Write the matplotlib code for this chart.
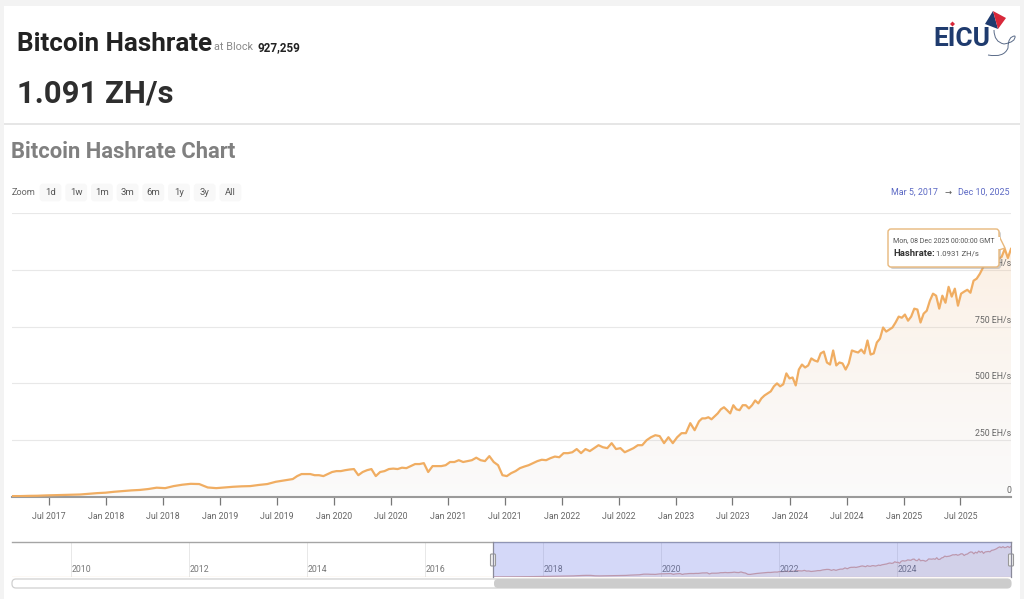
"""
    Bitcoin hashrate chart with navigator, header and tooltip
"""

import numpy as np
import pandas as pd
import matplotlib
matplotlib.use("Agg")
import matplotlib.dates as mdates
from matplotlib import pyplot as plt
from matplotlib.patches import FancyBboxPatch, PathPatch, Polygon, Rectangle
from matplotlib.path import Path

plt.rcParams["font.family"] = ["Roboto", "DejaVu Sans"]

# Values, EH/s
hashrate_2017_2019 = [4, 4, 5, 5.5, 7, 8, 9, 10, 11, 14, 17, 19, 23, 26, 29, 31, 35, 41, 39,
                      48, 54, 58, 57, 42, 39, 42, 45, 47, 48, 53, 57, 67, 73, 79]
hashrate_2019_2023 = [92, 101, 101, 101, 96, 96, 92, 101, 110, 114, 114, 118, 121, 123, 96, 110,
                      118, 123, 92, 110, 114, 123, 125, 123, 129, 127, 136, 145, 145, 149, 110,
                      136, 136, 136, 140, 154, 154, 162, 154, 158, 162, 173, 162, 158, 180, 154,
                      140, 96, 92, 105, 114, 127, 134, 140, 149, 158, 164, 162, 171, 178, 175,
                      193, 193, 197, 211, 193, 211, 202, 215, 228, 219, 215, 237, 211, 215, 197,
                      206, 215, 228, 228, 250, 263, 272, 268, 237, 263, 237, 263, 281, 281, 325, 294]
hashrate_2023_2025 = [333, 346, 346, 351, 342, 355, 368, 386, 395, 382, 368, 404, 386, 382, 404,
                      404, 390, 404, 425, 412, 434, 447, 456, 465, 487, 500, 487, 496, 544, 522,
                      526, 491, 561, 583, 570, 579, 610, 601, 596, 632, 640, 592, 583, 645, 579,
                      592, 588, 561, 588, 645, 640, 636, 649, 632, 689, 627, 632, 680, 697, 746,
                      728, 737, 746, 768, 794, 789, 803, 776, 794, 829, 825, 768, 807, 820, 864,
                      895, 886, 829, 886, 855, 925, 882, 917, 842, 895, 904, 912, 899, 952, 961,
                      982, 1009, 1048, 1075, 1048, 1083, 1048, 1057, 1092, 1052, 1092]

dates = (pd.date_range("2017-03-05", "2019-08-22", periods=len(hashrate_2017_2019)).tolist()
         + pd.date_range("2019-09-05", periods=len(hashrate_2019_2023), freq="14D").tolist()
         + pd.date_range("2023-03-16", periods=len(hashrate_2023_2025), freq="10D").tolist())
hashrate = hashrate_2017_2019 + hashrate_2019_2023 + hashrate_2023_2025

x_ticks = ["2017-07-01", "2018-01-01", "2018-07-01", "2019-01-01", "2019-07-01", "2020-01-01",
           "2020-07-01", "2021-01-01", "2021-07-01", "2022-01-01", "2022-07-01", "2023-01-01",
           "2023-07-01", "2024-01-01", "2024-07-01", "2025-01-01", "2025-07-01"]
x_tick_labels = ["Jul 2017", "Jan 2018", "Jul 2018", "Jan 2019", "Jul 2019", "Jan 2020",
                 "Jul 2020", "Jan 2021", "Jul 2021", "Jan 2022", "Jul 2022", "Jan 2023",
                 "Jul 2023", "Jan 2024", "Jul 2024", "Jan 2025", "Jul 2025"]
y_ticks = [0, 250, 500, 750, 1000, 1250]
y_tick_labels = ["0", "250 EH/s", "500 EH/s", "750 EH/s", "1000 EH/s", ""]
nav_years = [2010, 2012, 2014, 2016, 2018, 2020, 2022, 2024]
zoom_buttons = ["1d", "1w", "1m", "3m", "6m", "1y", "3y", "All"]

W, H = 1024, 599
LINE = "#f0ad62"
GREY = "#666666"


def px_axes(fig, left, top, right, bottom, **kw):
    """Axes placed with pixel positions measured from the top left corner"""
    return fig.add_axes([left / W, 1 - bottom / H, (right - left) / W, (bottom - top) / H], **kw)


def area_gradient(ax, xs, ys, top_color, bottom_color):
    """Vertical gradient under the line, clipped to the area"""
    steps = 256
    t = np.linspace(0, 1, steps)[:, None]
    img = np.zeros((steps, 1, 4))
    img[:, 0, :] = (1 - t) * np.array(top_color) + t * np.array(bottom_color)
    x0, x1 = ax.get_xlim()
    y0, y1 = ax.get_ylim()
    im = ax.imshow(img, extent=[x0, x1, y0, y1], aspect="auto", origin="upper", zorder=1.5)
    verts = [(xs[0], 0)] + list(zip(xs, ys)) + [(xs[-1], 0)]
    im.set_clip_path(Polygon(verts, closed=True, transform=ax.transData))
    ax.set_xlim(x0, x1)
    ax.set_ylim(y0, y1)


fig = plt.figure(figsize=(W / 100, H / 100), dpi=100, facecolor="#f3f3f3")

# Page cards
bg = fig.add_axes([0, 0, 1, 1], zorder=0)
bg.set_xlim(0, W)
bg.set_ylim(H, 0)
bg.axis("off")
bg.add_patch(Rectangle((4, 6), 1016, 117, fc="white", ec="none"))
bg.add_patch(Rectangle((4, 125), 1016, 474, fc="white", ec="none"))
bg.add_patch(Rectangle((4, 123), 1016, 2, fc="#e6e6e6", ec="none"))

# Main chart
ax = px_axes(fig, 12, 213, 1011, 497, zorder=1)
ax.patch.set_alpha(0)
xs = mdates.date2num(dates)
ax.set_xlim(mdates.date2num(pd.Timestamp("2017-03-05")), mdates.date2num(pd.Timestamp("2025-12-10")))
ax.set_ylim(0, 1250)
area_gradient(ax, xs, hashrate, (0.97, 0.72, 0.47, 0.24), (0.85, 0.85, 0.85, 0.12))
ax.plot(xs, hashrate, color=LINE, lw=1.6, zorder=3, solid_joinstyle="round")
ax.set_yticks(y_ticks)
ax.set_yticklabels([])
ax.tick_params(axis="y", length=0)
ax.grid(axis="y", color="#e8e8e8", lw=0.8, zorder=1)
ax.set_axisbelow(True)
ax.set_xticks(mdates.date2num(pd.to_datetime(x_ticks)))
ax.set_xticklabels(x_tick_labels, fontsize=6.3, color=GREY)
ax.tick_params(axis="x", length=6, width=0.9, color="#777777", pad=5)
for side in ["top", "left", "right"]:
    ax.spines[side].set_visible(False)
ax.spines["bottom"].set_color("#9a9a9a")
ax.spines["bottom"].set_linewidth(1.5)
for val, label in zip(y_ticks, y_tick_labels):
    ax.annotate(label, (1, val), xycoords=("axes fraction", "data"), xytext=(0, 1.5),
                textcoords="offset points", ha="right", va="bottom", fontsize=6.3, color=GREY, zorder=4)

# Navigator
nav = px_axes(fig, 12, 542, 1011, 577, zorder=1)
nav.set_xlim(mdates.date2num(pd.Timestamp("2009-01-01")), mdates.date2num(pd.Timestamp("2025-12-10")))
nav.set_ylim(0, 1250)
nav.fill_between(xs, hashrate, color="#f0ad62", alpha=0.12, lw=0, zorder=2)
nav.plot(xs, hashrate, color="#dfa99a", lw=0.9, zorder=3)
nav.plot(nav.get_xlim(), [15, 15], color="#f2d5b0", lw=0.9, zorder=3)
year_pos = mdates.date2num(pd.to_datetime([f"{y}-01-01" for y in nav_years]))
nav.set_xticks(year_pos)
nav.set_xticklabels([])
nav.set_yticks([])
nav.tick_params(axis="x", length=0)
nav.grid(axis="x", color="#e8e8e8", lw=0.7)
nav.set_axisbelow(True)
for pos, year in zip(year_pos, nav_years):
    nav.annotate(str(year), (pos, 0), xytext=(0.8, 1.8), textcoords="offset points", fontsize=6.3,
                 color="#777777", ha="left", va="bottom", zorder=4)
for side in ["left", "bottom", "right"]:
    nav.spines[side].set_visible(False)
nav.spines["top"].set_color("#a5a5a5")
nav.spines["top"].set_linewidth(1)

# Header, buttons, selection and tooltip go on an overlay in pixel coordinates
top = fig.add_axes([0, 0, 1, 1], zorder=5)
top.set_xlim(0, W)
top.set_ylim(H, 0)
top.axis("off")

top.text(17, 44, "Bitcoin Hashrate", fontsize=18.7, fontweight="bold", color="#222222", va="center")
top.text(214, 47.5, "at Block", fontsize=7.8, color="#8a8a8a", va="center")
top.text(258, 47.5, "927,259", fontsize=8.4, fontweight="bold", color="#222222", va="center")
top.text(17, 93.5, "1.091 ZH/s", fontsize=22.4, fontweight="bold", color="#2e2e2e", va="center")
top.text(11, 152, "Bitcoin Hashrate Chart", fontsize=15.8, fontweight="bold", color="#808080", va="center")

top.text(12, 192.5, "Zoom", fontsize=6.6, color=GREY, va="center")
for i, label in enumerate(zoom_buttons):
    cx = 50.5 + 25.7 * i
    top.add_patch(FancyBboxPatch((cx - 9.5, 185), 19, 15, boxstyle="round,pad=0,rounding_size=2",
                                 fc="#f8f8f8", ec="#f8f8f8", lw=2))
    top.text(cx, 192.5, label, fontsize=6.8, color="#555555", ha="center", va="center")

top.text(891, 192, "Mar 5, 2017", fontsize=6.4, color="#5b68c4", va="center")
top.text(948, 192, "→", fontsize=6, color="#555555", va="center", ha="center", family="DejaVu Sans")
top.text(958, 192, "Dec 10, 2025", fontsize=6.4, color="#5b68c4", va="center")

# Logo
top.text(933, 39, "EICU", fontsize=19, fontweight="bold", color="#1f3b6e", va="center")
top.add_patch(Polygon([(985, 24), (993, 11), (998, 29)], fc="#1f3b6e", ec="none"))
top.add_patch(Polygon([(993, 11), (1006, 18), (998, 29)], fc="#d8283a", ec="none"))
top.add_patch(PathPatch(Path([(994, 30), (994, 42), (1004, 44), (1016, 42), (1015, 36), (1008, 36), (1008, 48),
                              (1004, 58), (988, 55)],
                             [Path.MOVETO] + [Path.CURVE3] * 8), fc="none", ec="#5a6b88", lw=0.7))
top.add_patch(Polygon([(950, 24), (952.5, 21.5), (955, 24), (952.5, 26.5)], fc="#d8283a", ec="none"))

# Navigator selection and scrollbar
top.add_patch(Rectangle((493, 542), 518, 35, fc="#5566e6", alpha=0.25, ec="none"))
top.plot([493, 493], [542, 577], color="#8a8a9a", lw=0.9)
top.plot([1011, 1011], [542, 577], color="#8a8a9a", lw=0.9)
for hx in [493, 1011]:
    top.add_patch(FancyBboxPatch((hx - 2.5, 554), 5, 12, boxstyle="round,pad=0,rounding_size=1",
                                 fc="#f2f2f2", ec="#999999", lw=0.8))
top.add_patch(FancyBboxPatch((12, 579), 999, 9, boxstyle="round,pad=0,rounding_size=4",
                             fc="white", ec="#d0d0d0", lw=0.9))
top.add_patch(FancyBboxPatch((494, 579), 517, 9, boxstyle="round,pad=0,rounding_size=4",
                             fc="#cccccc", ec="none"))

# Tooltip
top.add_patch(FancyBboxPatch((890, 231), 111, 38, boxstyle="round,pad=0,rounding_size=3",
                             fc="#9a9a9a", ec="none", alpha=0.45))
top.add_patch(Polygon([(999, 236), (1005, 248), (999, 250)], fc="white", ec="#e8b87c", lw=1, zorder=3))
top.add_patch(FancyBboxPatch((888, 229), 111, 38, boxstyle="round,pad=0,rounding_size=3",
                             fc="white", ec="#e8b87c", lw=1, zorder=3))
top.add_patch(Rectangle((997, 237), 3, 12, fc="white", ec="none", zorder=3.5))
top.text(893, 241, "Mon, 08 Dec 2025 00:00:00 GMT", fontsize=5, color="#555555", va="center", zorder=4)
top.text(893, 253, "Hashrate:", fontsize=6.8, fontweight="bold", color="#333333", va="center", zorder=4)
top.text(936, 253, "1.0931 ZH/s", fontsize=5.6, color="#555555", va="center", zorder=4)

fig.savefig("out.png", dpi=100)
